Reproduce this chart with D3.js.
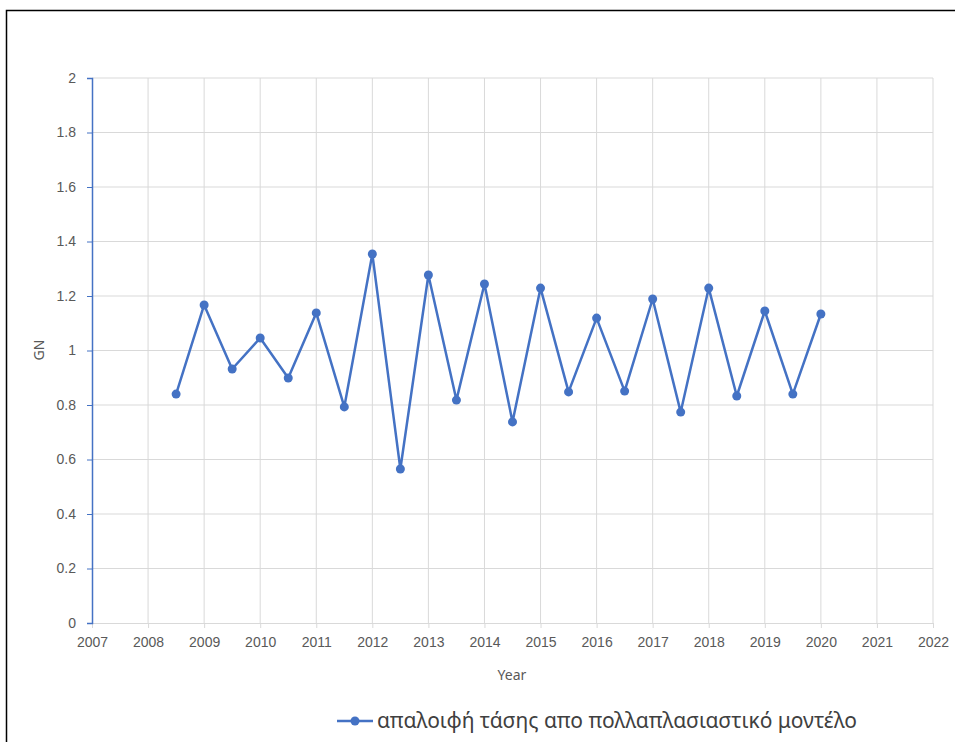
<!DOCTYPE html>
<html>
<head>
<meta charset="utf-8">
<script src="https://cdn.jsdelivr.net/npm/d3@7"></script>
<style>
  body { margin: 0; background: #fff; }
  svg { display: block; font-family: "Noto Sans", "Open Sans", sans-serif; }
</style>
</head>
<body>
<svg id="viz" width="955" height="742"></svg>
<script>
// data
const years = [2008.5, 2009, 2009.5, 2010, 2010.5, 2011, 2011.5, 2012, 2012.5, 2013, 2013.5, 2014,
  2014.5, 2015, 2015.5, 2016, 2016.5, 2017, 2017.5, 2018, 2018.5, 2019, 2019.5, 2020];
const gn = [0.840, 1.167, 0.932, 1.046, 0.899, 1.138, 0.793, 1.354, 0.565, 1.277, 0.818, 1.244,
  0.738, 1.229, 0.848, 1.119, 0.851, 1.189, 0.774, 1.229, 0.833, 1.145, 0.840, 1.134];
const xTicks = d3.range(2007, 2023);
const yTicks = [0, 0.2, 0.4, 0.6, 0.8, 1, 1.2, 1.4, 1.6, 1.8, 2];
const seriesName = "απαλοιφή τάσης απο πολλαπλασιαστικό μοντέλο";

const svg = d3.select("#viz");
const blue = "#4472C4";
const grid = "#d9d9d9";
const textCol = "#595959";

// outer frame (chart box runs past the page edge on right and bottom)
svg.append("rect")
  .attr("x", 6.5).attr("y", 10.5)
  .attr("width", 1000).attr("height", 1000)
  .attr("fill", "none").attr("stroke", "#000").attr("stroke-width", 1.5);

let x = d3.scaleLinear().domain([2007, 2022]).range([92, 933]);
let y = d3.scaleLinear().domain([0, 2]).range([623, 78]);

// gridlines
svg.append("g").selectAll("line.h")
  .data(yTicks.slice(1))
  .join("line")
  .attr("x1", x(2007)).attr("x2", x(2022))
  .attr("y1", d => y(d)).attr("y2", d => y(d))
  .attr("stroke", grid).attr("stroke-width", 1);

svg.append("g").selectAll("line.v")
  .data(xTicks.slice(1))
  .join("line")
  .attr("x1", d => x(d)).attr("x2", d => x(d))
  .attr("y1", y(0)).attr("y2", y(2))
  .attr("stroke", grid).attr("stroke-width", 1);

// x axis
let xAxis = svg.append("g")
  .attr("transform", `translate(0,${y(0)})`)
  .call(d3.axisBottom(x).tickValues(xTicks).tickFormat(d3.format("d")).tickSizeOuter(0).tickSize(5).tickPadding(9));
xAxis.select(".domain").attr("stroke", grid);
xAxis.selectAll(".tick line").attr("stroke", grid);
xAxis.selectAll("text").attr("fill", textCol).attr("font-size", 14);

// y axis
let yAxis = svg.append("g")
  .attr("transform", `translate(${x(2007)},0)`)
  .call(d3.axisLeft(y).tickValues(yTicks).tickFormat(d => d).tickSizeOuter(0).tickSize(5).tickPadding(11));
yAxis.select(".domain").attr("stroke", blue).attr("stroke-width", 1.5);
yAxis.selectAll(".tick line").attr("stroke", blue);
yAxis.selectAll("text").attr("fill", textCol).attr("font-size", 14);

// axis titles
svg.append("text")
  .attr("x", 512).attr("y", 680)
  .attr("text-anchor", "middle")
  .attr("fill", textCol).attr("font-size", 14)
  .text("Year");

svg.append("text")
  .attr("transform", "translate(44,350) rotate(-90)")
  .attr("text-anchor", "middle")
  .attr("fill", textCol).attr("font-size", 14)
  .text("GN");

// series
let pts = years.map((yr, i) => [yr, gn[i]]);
svg.append("path")
  .datum(pts)
  .attr("d", d3.line().x(d => x(d[0])).y(d => y(d[1])))
  .attr("fill", "none").attr("stroke", blue).attr("stroke-width", 2.5)
  .attr("stroke-linejoin", "round");

svg.append("g").selectAll("circle")
  .data(pts)
  .join("circle")
  .attr("cx", d => x(d[0])).attr("cy", d => y(d[1]))
  .attr("r", 4.5).attr("fill", blue);

// legend
let lg = svg.append("g").attr("transform", "translate(337,721)");
lg.append("line").attr("x1", 0).attr("x2", 36).attr("stroke", blue).attr("stroke-width", 2.5);
lg.append("circle").attr("cx", 18).attr("r", 4.5).attr("fill", blue);
lg.append("text")
  .attr("x", 40).attr("y", 0).attr("dy", "0.35em")
  .attr("fill", "#404040").attr("font-size", 21)
  .text(seriesName);
</script>
</body>
</html>
